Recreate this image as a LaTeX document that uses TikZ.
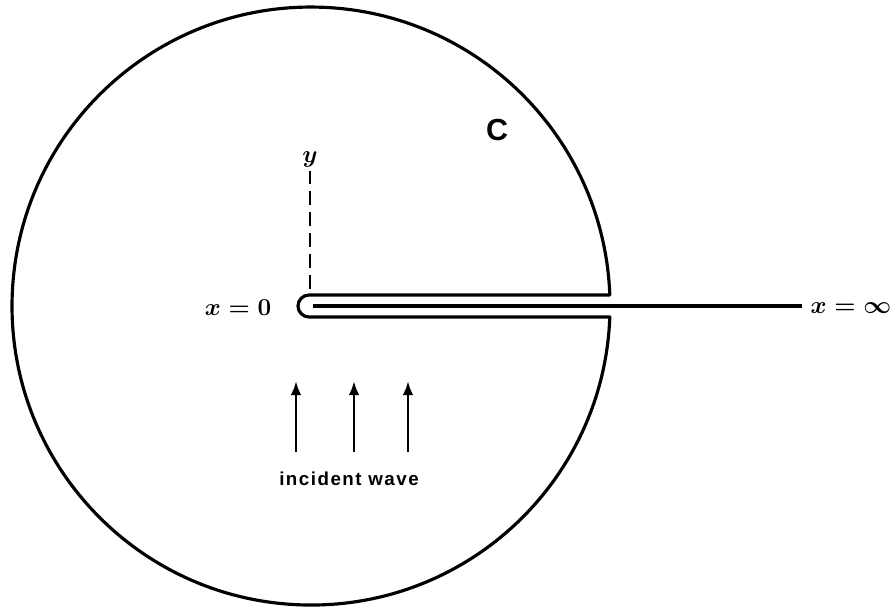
\documentclass[tikz,border=0pt]{standalone}
\usepackage{fontspec}
\setmainfont{Liberation Sans}
\newfontfamily\lblfont[LetterSpace=8]{Liberation Sans}
\usetikzlibrary{positioning,arrows.meta}

\begin{document}
\begin{tikzpicture}[
  x=0.03cm,y=0.03cm,
  every node/.style={font=\fontsize{20}{22}\selectfont\boldmath},
  contour/.style={line width=2.7pt,line join=round},
  slit/.style={line width=2.7pt},
  axis/.style={line width=1.8pt,dash pattern=on 12pt off 6pt},
  arrow/.style={-{Latex[length=12pt,width=9pt]},line width=2.2pt}
]
  \useasboundingbox (0,0) rectangle (895,607);
  % contour C with the keyhole round the cut
  \draw[contour] (609.8,312) -- (309,312)
    arc[start angle=90,end angle=270,radius=11]
    -- (609.8,290)
    arc[start angle=-2.1,end angle=-357.9,radius=299] -- cycle;
  % the cut along the positive x axis
  \coordinate (s0) at (313,301);
  \coordinate (s1) at (802,301);
  \draw[slit] (s0) -- (s1);
  \node (x0) at (238,299) {$x = 0$};
  \node (xinf) at (851,299) {$x = \infty$};
  % y axis
  \node (ylab) at (310,448) {$y$};
  \coordinate (yb) at (310,318);
  \draw[axis] (yb) -- (ylab.south);
  \node[font=\fontsize{26}{28}\selectfont\bfseries] (clab) at (497,477) {C};
  % incident wave
  \node[font=\lblfont\fontsize{16}{18}\selectfont\bfseries] (inc) at (349,128) {incident wave};
  \foreach \i/\xx in {1/296,2/354,3/408}{
    \coordinate (t\i) at (\xx,155);
    \coordinate (h\i) at (\xx,226);
    \draw[arrow] (t\i) -- (h\i);
  }
\end{tikzpicture}
\end{document}
